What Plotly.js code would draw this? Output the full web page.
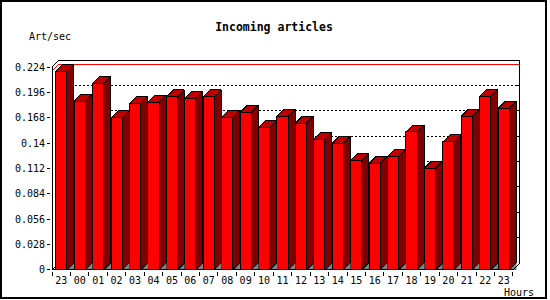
<!DOCTYPE html>
<html>
<head>
<meta charset="utf-8">
<script src="https://cdn.plot.ly/plotly-3.0.1.min.js"></script>
<style>html,body{margin:0;padding:0;background:#fff;}#chart{width:550px;height:300px;}
#chart path{shape-rendering:crispEdges;}</style>
</head>
<body>
<div id="chart"></div>
<script>
// ---- data ----
const hours = ['23','00','01','02','03','04','05','06','07','08','09','10','11','12','13','14','15','16','17','18','19','20','21','22','23'];
const artPerSec = [0.2196,0.1865,0.2060,0.1678,0.1840,0.1854,0.1910,0.1898,0.1910,0.1685,0.1740,0.1575,0.1696,0.1620,0.1443,0.1398,0.1207,0.1176,0.1255,0.1523,0.1124,0.1413,0.1696,0.1917,0.1784];
const yTickVals = [0,0.028,0.056,0.084,0.112,0.14,0.168,0.196,0.224];
const yTickText = ['0','0.028','0.056','0.084','0.112','0.14','0.168','0.196','0.224'];
const chartTitle = 'Incoming articles';
const yLabel = 'Art/sec';
const xLabel = 'Hours';

// ---- 3D geometry (in axis units) ----
const H = 0.3;      // half width of bar front
const DX = 0.38;    // depth, x units
const DY = 0.0077;  // depth, y units
const YMAX = 0.224;
const n = hours.length;
const idx = hours.map((_, i) => i);
const xL = -0.5, xR = n - 0.5;

const sideX = [], sideY = [], topX = [], topY = [], flX = [], flY = [];
artPerSec.forEach((v, i) => {
  sideX.push(i+H, i+H+DX, i+H+DX, i+H, i+H, null);
  sideY.push(0, DY, v+DY, v, 0, null);
  topX.push(i-H, i-H+DX, i+H+DX, i+H, i-H, null);
  topY.push(v, v+DY, v+DY, v, v, null);
  flX.push(i+H, i+H+DX, i+H+DX, i+H, null);
  flY.push(0, 0, DY, 0, null);
});
const vmax = Math.max(...artPerSec);

const traces = [
  {type:'scatter', mode:'lines', x:[xL, xL+DX, xR+DX], y:[vmax, vmax+DY, vmax+DY],
   line:{color:'#ff0000', width:1}, hoverinfo:'skip'},
  {type:'bar', x:idx, y:artPerSec, width:2*H,
   marker:{color:'#ff0000', line:{color:'#000000', width:1}}, hoverinfo:'skip'},
  {type:'scatter', mode:'lines', x:flX, y:flY, fill:'toself', fillcolor:'#808080',
   line:{color:'#808080', width:0.5}, hoverinfo:'skip'},
  {type:'scatter', mode:'lines', x:sideX, y:sideY, fill:'toself', fillcolor:'#800000',
   line:{color:'#000000', width:1}, hoverinfo:'skip'},
  {type:'scatter', mode:'lines', x:topX, y:topY, fill:'toself', fillcolor:'#c00000',
   line:{color:'#000000', width:1}, hoverinfo:'skip'}
];

const shapes = [];
const ln = (x0,y0,x1,y1,extra) => Object.assign({type:'line', xref:'x', yref:'y', x0, y0, x1, y1,
  line:{color:'#000000', width:1}}, extra||{});
// back grid lines (dotted) and right wall ticks
yTickVals.slice(1, -1).forEach(v => {
  shapes.push(ln(xL+DX, v+DY, xR+DX, v+DY, {layer:'below', line:{color:'#000000', width:1, dash:'2px,2px'}}));
  shapes.push(ln(xR+DX-0.17, v+DY, xR+DX, v+DY, {layer:'below'}));
});
// frame
shapes.push(ln(xL, 0, xL, YMAX));
shapes.push(ln(xL, YMAX, xL+DX, YMAX+DY));
shapes.push(ln(xL+DX, YMAX+DY, xR+DX, YMAX+DY, {layer:'below'}));
shapes.push(ln(xR+DX, DY, xR+DX, YMAX+DY));
shapes.push(ln(xL, 0, xR, 0));
shapes.push(ln(xR, 0, xR+DX, DY));
shapes.push(ln(xL, 0, xL+DX, DY, {layer:'below'}));

// outer border (paper coords)
const ml = 51, mr = 29, mt = 59, mb = 29, W = 550, Hh = 300;
const pw = W - ml - mr, ph = Hh - mt - mb;
const px = x => (x - ml) / pw, py = y => (Hh - mb - y) / ph;
shapes.push({type:'rect', xref:'paper', yref:'paper', x0:px(1), x1:px(546), y0:py(1), y1:py(298),
  line:{color:'#000000', width:2}, layer:'above'});

const font = {family:'DejaVu Sans Mono, monospace', size:10, color:'#000000'};
const layout = {
  width: W, height: Hh,
  margin:{l:ml, r:mr, t:mt, b:mb},
  paper_bgcolor:'#ffffff', plot_bgcolor:'#ffffff',
  showlegend:false, hovermode:false,
  barmode:'overlay',
  title:{text:chartTitle, x:274/W, xref:'container', xanchor:'center', y:1-27/Hh, yref:'container', yanchor:'middle',
    font:{family:'DejaVu Sans Mono, monospace', size:11.5, color:'#000000', weight:'bold'}},
  xaxis:{range:[xL-0.06, xR+DX+0.06], tickmode:'array', tickvals:idx, ticktext:hours,
    ticks:'', showgrid:false, zeroline:false, showline:false, tickfont:font, ticklabelstandoff:2,
    minor:{tickmode:'array', tickvals:idx.concat([n]).map(i => i-0.5), ticks:'outside', ticklen:4, tickcolor:'#000000', tickwidth:1, showgrid:false}},
  yaxis:{range:[-0.0012, YMAX+DY+0.0012], tickmode:'array', tickvals:yTickVals, ticktext:yTickText,
    ticks:'outside', ticklen:3, tickcolor:'#000000', showgrid:false, zeroline:false, showline:false, tickfont:font},
  shapes: shapes,
  annotations:[
    {text:yLabel, xref:'paper', yref:'paper', x:px(50), y:py(37), xanchor:'center', yanchor:'middle', showarrow:false, font:font},
    {text:xLabel, xref:'paper', yref:'paper', x:px(519), y:py(292), xanchor:'center', yanchor:'middle', showarrow:false, font:font}
  ]
};
Plotly.newPlot('chart', traces, layout, {staticPlot:true, displayModeBar:false});
</script>
</body>
</html>
